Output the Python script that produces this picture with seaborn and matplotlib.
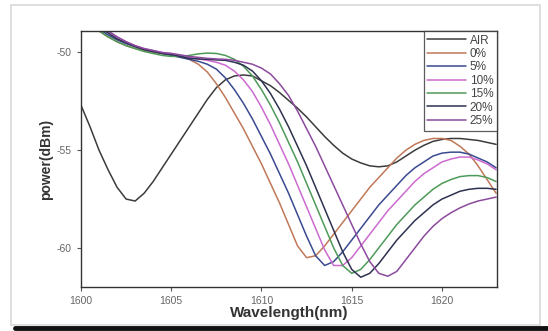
import numpy as np
import pandas as pd
import matplotlib
matplotlib.use("Agg")
import matplotlib.pyplot as plt
import seaborn as sns
from matplotlib.patches import Rectangle
from matplotlib.lines import Line2D

# Longueurs d'onde (nm), pas de 0.5 nm
wavelength = [1600.0, 1600.5, 1601.0, 1601.5, 1602.0, 1602.5, 1603.0, 1603.5, 1604.0, 1604.5,
              1605.0, 1605.5, 1606.0, 1606.5, 1607.0, 1607.5, 1608.0, 1608.5, 1609.0, 1609.5,
              1610.0, 1610.5, 1611.0, 1611.5, 1612.0, 1612.5, 1613.0, 1613.5, 1614.0, 1614.5,
              1615.0, 1615.5, 1616.0, 1616.5, 1617.0, 1617.5, 1618.0, 1618.5, 1619.0, 1619.5,
              1620.0, 1620.5, 1621.0, 1621.5, 1622.0, 1622.5, 1623.0]

p_air = [-52.7, -53.8, -55.0, -56.0, -56.9, -57.5, -57.6, -57.2, -56.6, -55.9,
         -55.2, -54.5, -53.8, -53.1, -52.4, -51.8, -51.4, -51.2, -51.15, -51.2,
         -51.45, -51.7, -52.05, -52.45, -52.85, -53.3, -53.8, -54.3, -54.75, -55.15,
         -55.45, -55.65, -55.8, -55.85, -55.8, -55.6, -55.3, -55.0, -54.75, -54.55,
         -54.45, -54.4, -54.4, -54.45, -54.5, -54.6, -54.7]

p_0 = [-48.3, -48.6, -48.9, -49.2, -49.45, -49.65, -49.8, -49.9, -50.0, -50.05,
       -50.1, -50.2, -50.35, -50.6, -51.0, -51.6, -52.3, -53.1, -53.9, -54.8,
       -55.7, -56.7, -57.7, -58.8, -59.9, -60.5, -60.4, -59.9, -59.3, -58.7,
       -58.1, -57.5, -56.9, -56.4, -55.9, -55.4, -55.0, -54.7, -54.5, -54.4,
       -54.4, -54.5, -54.8, -55.2, -55.8, -56.5, -57.2]

p_5 = [-48.2, -48.5, -48.8, -49.1, -49.35, -49.55, -49.7, -49.85, -49.95, -50.05,
       -50.15, -50.25, -50.35, -50.45, -50.6, -50.85, -51.3, -51.9, -52.6, -53.4,
       -54.3, -55.2, -56.2, -57.2, -58.3, -59.4, -60.4, -60.9, -60.7, -60.2,
       -59.6, -59.0, -58.4, -57.8, -57.3, -56.8, -56.3, -55.9, -55.6, -55.3,
       -55.15, -55.1, -55.1, -55.2, -55.4, -55.6, -55.9]

p_10 = [-48.0, -48.3, -48.6, -48.9, -49.2, -49.45, -49.65, -49.8, -49.9, -50.0,
        -50.05, -50.15, -50.25, -50.33, -50.4, -50.5, -50.65, -50.95, -51.4, -52.0,
        -52.8, -53.7, -54.7, -55.7, -56.8, -57.9, -59.0, -60.1, -60.9, -60.9,
        -60.5, -59.9, -59.3, -58.7, -58.1, -57.6, -57.1, -56.6, -56.2, -55.9,
        -55.6, -55.45, -55.35, -55.35, -55.5, -55.7, -56.0]

p_15 = [-48.3, -48.6, -48.9, -49.2, -49.45, -49.65, -49.8, -49.95, -50.05, -50.15,
        -50.2, -50.2, -50.15, -50.07, -50.03, -50.05, -50.15, -50.35, -50.7, -51.2,
        -51.9, -52.7, -53.6, -54.6, -55.6, -56.7, -57.8, -58.9, -60.0, -60.9,
        -61.3, -61.1, -60.6, -60.0, -59.4, -58.8, -58.3, -57.8, -57.4, -57.0,
        -56.7, -56.5, -56.35, -56.3, -56.3, -56.4, -56.6]

p_20 = [-48.1, -48.4, -48.7, -49.0, -49.3, -49.5, -49.7, -49.85, -49.95, -50.05,
        -50.1, -50.2, -50.3, -50.33, -50.35, -50.38, -50.4, -50.5, -50.65, -50.95,
        -51.45, -52.1, -52.9, -53.8, -54.8, -55.8, -56.9, -58.0, -59.1, -60.2,
        -61.1, -61.5, -61.3, -60.8, -60.2, -59.6, -59.1, -58.6, -58.2, -57.8,
        -57.5, -57.3, -57.1, -57.0, -56.95, -56.95, -57.0]

p_25 = [-48.0, -48.3, -48.6, -48.9, -49.2, -49.45, -49.65, -49.8, -49.9, -50.0,
        -50.05, -50.12, -50.2, -50.25, -50.3, -50.33, -50.35, -50.4, -50.5, -50.6,
        -50.8, -51.1, -51.6, -52.2, -53.0, -53.9, -54.8, -55.8, -56.8, -57.8,
        -58.8, -59.8, -60.7, -61.3, -61.45, -61.2, -60.6, -60.0, -59.4, -58.9,
        -58.5, -58.2, -57.95, -57.75, -57.6, -57.5, -57.4]

labels = ["AIR", "0%", "5%", "10%", "15%", "20%", "25%"]
series = [p_air, p_0, p_5, p_10, p_15, p_20, p_25]
couleurs = ["#3c3c3c", "#c07858", "#3a4a90", "#cc6ad0", "#4e9a58", "#2e3250", "#8c4a9e"]

# Tableau long pour seaborn
df = pd.concat([pd.DataFrame({"wavelength": wavelength, "power": s, "echantillon": lab})
                for lab, s in zip(labels, series)], ignore_index=True)

sns.set_style("white")
plt.rcParams["font.family"] = ["Liberation Sans", "DejaVu Sans"]

fig = plt.figure(figsize=(5.48, 3.31), dpi=100)
ax = fig.add_axes([81 / 548, 1 - 287 / 331, (497 - 81) / 548, (287 - 31) / 331])

sns.lineplot(data=df, x="wavelength", y="power", hue="echantillon", hue_order=labels,
             palette=couleurs, linewidth=1.1, ax=ax, legend=False)

ax.set_xlim(1600, 1623.05)
ax.set_ylim(-62.0, -48.9)
ax.set_xticks([1600, 1605, 1610, 1615, 1620])
ax.set_yticks([-50, -55, -60])
ax.set_yticklabels(["-50", "-55", "-60"])
ax.tick_params(axis="both", direction="out", length=3, width=0.8, labelsize=7.5,
               colors="#555555", bottom=True, left=True)
ax.tick_params(axis="both", labelcolor="#666666")
for sp in ax.spines.values():
    sp.set_color("#333333")
    sp.set_linewidth(1.0)

ax.set_xlabel("Wavelength(nm)", fontsize=11, fontweight="bold", color="#333333", labelpad=0)
ax.set_ylabel("power(dBm)", fontsize=10, fontweight="bold", color="#333333", labelpad=3)

handles = [Line2D([0], [0], color=c, lw=1.1) for c in couleurs]
leg = ax.legend(handles, labels, loc="upper right", fontsize=8.5, frameon=True,
                fancybox=False, handlelength=3.3, handletextpad=0.3, borderpad=0.3,
                labelspacing=0.12, borderaxespad=0.0)
leg.get_frame().set_edgecolor("#333333")
leg.get_frame().set_linewidth(0.9)
for t in leg.get_texts():
    t.set_color("#444444")

# Cadre gris clair et trait noir en bas de l'image
fig.add_artist(Rectangle((11 / 548, 6 / 331), 529 / 548, 320 / 331, transform=fig.transFigure,
                         fill=False, edgecolor="#d8d8d8", linewidth=1.2))
fig.add_artist(Line2D([15 / 548, 1.0], [3 / 331, 3 / 331], transform=fig.transFigure,
                      color="#111111", linewidth=3.5))

fig.savefig("out.png", dpi=100)
